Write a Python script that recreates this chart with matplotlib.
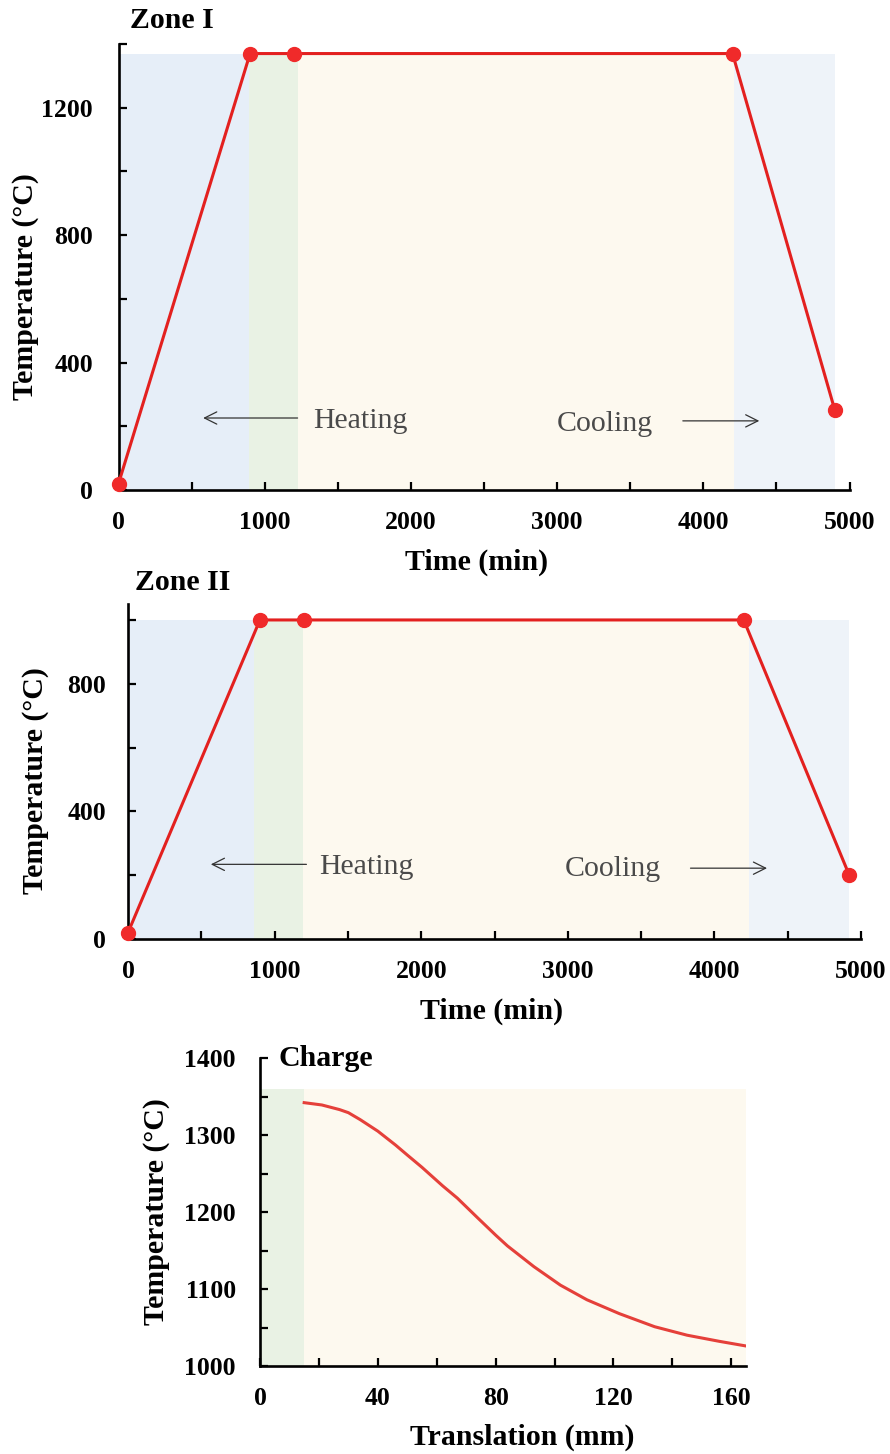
import matplotlib
matplotlib.use("Agg")
import matplotlib.pyplot as plt
from matplotlib.ticker import MultipleLocator

plt.rcParams["font.family"] = ["Liberation Serif", "DejaVu Serif"]

# ---- data -------------------------------------------------------------
# Zone I furnace schedule
zone1_time = [0, 900, 1200, 4200, 4900]
zone1_temp = [20, 1370, 1370, 1370, 250]
zone1_stages = [0, 890, 1225, 4210, 4900]     # heating | hold | growth | cooling
zone1_top = 1370

# Zone II furnace schedule
zone2_time = [0, 900, 1200, 4200, 4920]
zone2_temp = [20, 1000, 1000, 1000, 200]
zone2_stages = [0, 860, 1195, 4235, 4920]
zone2_top = 1000

# Charge temperature along the translation path
charge_pos = [15, 21, 27, 30, 34, 40, 46, 50, 55, 62, 67, 74, 80, 84, 89,
              93, 102, 111, 122, 134, 145, 156, 165]
charge_temp = [1342, 1339, 1333, 1329, 1320, 1305, 1287, 1274, 1258, 1234,
               1218, 1192, 1170, 1156, 1141, 1129, 1105, 1086, 1068, 1051,
               1040, 1032, 1026]
charge_stages = [0, 15, 165]
charge_top = 1360

# ---- style ------------------------------------------------------------
W, H = 890, 1454
C_HEAT = "#e6eef8"
C_HOLD = "#e9f2e4"
C_GROW = "#fdf9ef"
C_COOL = "#eef3f9"
RED = "#e3201f"
MK = "#f02a2a"
TXT = "#4a4a4a"
TICK_FS = 18.5
LAB_FS = 21.5


def px_axes(left, right, bottom, top):
    return [left / W, 1 - bottom / H, (right - left) / W, (bottom - top) / H]


def style_axes(ax, xpad=16, ypad=17):
    for s in ("top", "right"):
        ax.spines[s].set_visible(False)
    for s in ("left", "bottom"):
        ax.spines[s].set_linewidth(1.9)
        ax.spines[s].set_color("black")
    ax.tick_params(which="both", direction="in", length=5.5, width=1.6,
                   labelsize=TICK_FS)
    ax.tick_params(axis="x", which="both", pad=xpad)
    ax.tick_params(axis="y", which="both", pad=ypad)
    for lab in ax.get_xticklabels() + ax.get_yticklabels():
        lab.set_fontweight("bold")


def shade(ax, edges, colors, top):
    for a, b, c in zip(edges[:-1], edges[1:], colors):
        ax.fill_between([a, b], 0, top, color=c, lw=0, zorder=0)


def fig_text(x, y, s, **kw):
    fig.text(x / W, 1 - y / H, s, **kw)


fig = plt.figure(figsize=(W / 100, H / 100), dpi=100)

# ---- Zone I -----------------------------------------------------------
ax1 = fig.add_axes(px_axes(118.5, 849.5, 490, 44))
shade(ax1, zone1_stages, [C_HEAT, C_HOLD, C_GROW, C_COOL], zone1_top)
ax1.plot(zone1_time, zone1_temp, color=RED, lw=2.2, zorder=3, clip_on=False)
ax1.plot(zone1_time, zone1_temp, "o", color=MK, ms=10, zorder=4,
         clip_on=False)
ax1.set_xlim(0, 5000)
ax1.set_ylim(0, 1400)
ax1.xaxis.set_major_locator(MultipleLocator(1000))
ax1.xaxis.set_minor_locator(MultipleLocator(500))
ax1.yaxis.set_major_locator(MultipleLocator(400))
ax1.yaxis.set_minor_locator(MultipleLocator(200))
style_axes(ax1, xpad=15, ypad=18.5)
ax1.annotate("", xy=(560, 226), xytext=(1244, 226),
             arrowprops=dict(arrowstyle="->", color="#333333", lw=0.9,
                             mutation_scale=22))
ax1.text(1333, 217, "Heating", fontsize=LAB_FS, color=TXT, va="center")
ax1.text(3000, 207, "Cooling", fontsize=LAB_FS, color=TXT, va="center")
ax1.annotate("", xy=(4402, 217), xytext=(3841, 217),
             arrowprops=dict(arrowstyle="->", color="#333333", lw=0.9,
                             mutation_scale=22))

fig_text(130, 20, "Zone I", fontsize=LAB_FS, fontweight="bold",
         va="center", ha="left")
fig_text(26, 287, "Temperature (\u00b0C)", fontsize=LAB_FS,
         fontweight="bold", rotation=90, va="center", ha="center")
fig_text(477, 562, "Time (min)", fontsize=LAB_FS, fontweight="bold",
         va="center", ha="center")

# ---- Zone II ----------------------------------------------------------
ax2 = fig.add_axes(px_axes(128, 861, 939, 604))
shade(ax2, zone2_stages, [C_HEAT, C_HOLD, C_GROW, C_COOL], zone2_top)
ax2.plot(zone2_time, zone2_temp, color=RED, lw=2.2, zorder=3, clip_on=False)
ax2.plot(zone2_time, zone2_temp, "o", color=MK, ms=10, zorder=4,
         clip_on=False)
ax2.set_xlim(0, 5000)
ax2.set_ylim(0, 1050)
ax2.xaxis.set_major_locator(MultipleLocator(1000))
ax2.xaxis.set_minor_locator(MultipleLocator(500))
ax2.yaxis.set_major_locator(MultipleLocator(400))
ax2.yaxis.set_minor_locator(MultipleLocator(200))
style_axes(ax2, xpad=15, ypad=16)
ax2.annotate("", xy=(546, 234), xytext=(1236, 234),
             arrowprops=dict(arrowstyle="->", color="#333333", lw=0.9,
                             mutation_scale=22))
ax2.text(1305, 225, "Heating", fontsize=LAB_FS, color=TXT, va="center")
ax2.text(2978, 219, "Cooling", fontsize=LAB_FS, color=TXT, va="center")
ax2.annotate("", xy=(4378, 222), xytext=(3818, 222),
             arrowprops=dict(arrowstyle="->", color="#333333", lw=0.9,
                             mutation_scale=22))

fig_text(135, 583, "Zone II", fontsize=LAB_FS, fontweight="bold",
         va="center", ha="left")
fig_text(36, 781, "Temperature (\u00b0C)", fontsize=LAB_FS,
         fontweight="bold", rotation=90, va="center", ha="center")
fig_text(492, 1011, "Time (min)", fontsize=LAB_FS, fontweight="bold",
         va="center", ha="center")

# ---- Charge -----------------------------------------------------------
ax3 = fig.add_axes(px_axes(260, 746, 1366, 1058))
shade(ax3, charge_stages, [C_HOLD, C_GROW], charge_top)
ax3.plot(charge_pos, charge_temp, color="#e5403a", lw=2.2, zorder=3,
         solid_joinstyle="round")
ax3.set_xlim(0, 165)
ax3.set_ylim(1000, 1400)
ax3.xaxis.set_major_locator(MultipleLocator(40))
ax3.xaxis.set_minor_locator(MultipleLocator(20))
ax3.yaxis.set_major_locator(MultipleLocator(100))
ax3.yaxis.set_minor_locator(MultipleLocator(50))
style_axes(ax3, xpad=15, ypad=17.5)

fig_text(278, 1058, "Charge", fontsize=LAB_FS, fontweight="bold",
         va="center", ha="left")
fig_text(157, 1212, "Temperature (\u00b0C)", fontsize=LAB_FS,
         fontweight="bold", rotation=90, va="center", ha="center")
fig_text(522, 1437, "Translation (mm)", fontsize=LAB_FS, fontweight="bold",
         va="center", ha="center")

fig.savefig("out.png", dpi=100)
